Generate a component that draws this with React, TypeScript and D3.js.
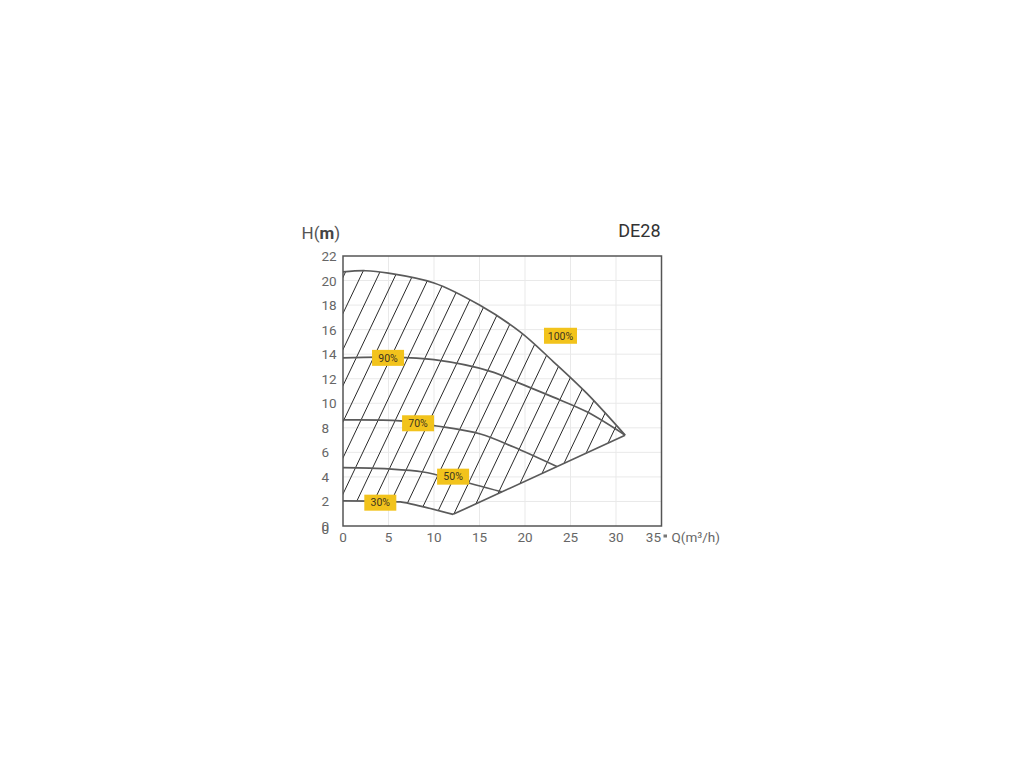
import React from "react";
import * as d3 from "d3";

type P = [number, number];

const Q_TICKS = [0, 5, 10, 15, 20, 25, 30, 35];
const H_TICKS = [0, 2, 4, 6, 8, 10, 12, 14, 16, 18, 20, 22];

const curve100: P[] = [[0, 20.7], [2.5, 20.8], [5, 20.6], [10, 19.8], [15, 18.0], [19.5, 15.8], [23.1, 13.4], [26.8, 10.8], [31, 7.4]];
const curve90: P[] = [[0, 13.7], [5, 13.75], [10, 13.55], [16.2, 12.6], [19.5, 11.6], [23.1, 10.5], [26.8, 9.3], [31, 7.4]];
const curve70: P[] = [[0, 8.64], [6.3, 8.56], [10.3, 8.15], [15.1, 7.5], [18.7, 6.45], [23.5, 4.84]];
const curve50: P[] = [[0, 4.75], [5, 4.65], [8.8, 4.4], [12.5, 3.75], [17.45, 2.78]];
const curve30: P[] = [[0, 2.04], [4, 2.02], [6.3, 1.96], [8.5, 1.62], [12.1, 0.95]];
const boundary: P[] = [[12.1, 0.95], [31, 7.4]];

const speedLabels = ["100%", "90%", "70%", "50%", "30%"];
const labelQ = [23.9, 4.95, 8.25, 12.1, 4.1];
const labelH = [15.5, 13.7, 8.37, 4.02, 1.9];

const W = 1024;
const H = 768;
const PL = 343, PR = 661.5, PT = 256, PB = 526;
const FONT = "Roboto, 'Noto Sans', sans-serif";

export default function App() {
  const x = d3.scaleLinear().domain([0, 35]).range([PL, PR]);
  const y = d3.scaleLinear().domain([0, 22]).range([PB, PT]);

  const smooth = d3.curveCatmullRom.alpha(0.5);
  const line = d3.line<P>().x(d => x(d[0])).y(d => y(d[1])).curve(smooth);
  const straight = d3.line<P>().x(d => x(d[0])).y(d => y(d[1]));
  const areaBelow = d3.area<P>().x(d => x(d[0])).y0(y(-3)).y1(d => y(d[1])).curve(smooth);
  const areaAbove = d3.area<P>().x(d => x(d[0])).y0(y(25)).y1(d => y(d[1])).curve(smooth);
  const areaAboveLin = d3.area<P>().x(d => x(d[0])).y0(y(25)).y1(d => y(d[1]));

  // hatch lines (decorative pattern)
  const slope = 2.1;
  const spacing = 17.2;
  const xRef = x(2.2);
  const yRef = y(20.75);
  const hatch: { x1: number; y1: number; x2: number; y2: number }[] = [];
  for (let k = -25; k <= 30; k++) {
    const xt = xRef + k * spacing;
    const ya = PT - 10, yb = PB + 10;
    hatch.push({ x1: xt - (ya - yRef) / slope, y1: ya, x2: xt - (yb - yRef) / slope, y2: yb });
  }

  const curveStroke = "#5a5a5a";
  const curves = [curve100, curve90, curve70, curve50, curve30];

  return (
    <svg width={W} height={H} style={{ position: "absolute", left: 0, top: 0, background: "#fff" }} fontFamily={FONT}>
      <defs>
        <clipPath id="clipA">
          <path d={areaBelow(curve100) || ""} />
        </clipPath>
        <clipPath id="clipB">
          <path d={areaAbove(curve30) || ""} />
          <path d={areaAboveLin(boundary) || ""} />
        </clipPath>
      </defs>

      {/* grid */}
      {H_TICKS.filter(t => t > 0 && t < 22).map(t => (
        <line key={"gh" + t} x1={PL} x2={PR} y1={y(t)} y2={y(t)} stroke="#e9e9e9" strokeWidth={1} />
      ))}
      {Q_TICKS.filter(t => t > 0 && t < 35).map(t => (
        <line key={"gv" + t} x1={x(t)} x2={x(t)} y1={PT} y2={PB} stroke="#e9e9e9" strokeWidth={1} />
      ))}

      {/* hatch */}
      <g clipPath="url(#clipA)">
        <g clipPath="url(#clipB)">
          {hatch.map((h, i) => (
            <line key={"h" + i} x1={h.x1} y1={h.y1} x2={h.x2} y2={h.y2} stroke="#2a2a2a" strokeWidth={1} />
          ))}
        </g>
      </g>

      {/* curves */}
      {curves.map((c, i) => (
        <path key={"c" + i} d={line(c) || ""} fill="none" stroke={curveStroke} strokeWidth={1.7} />
      ))}
      <path d={straight(boundary) || ""} fill="none" stroke={curveStroke} strokeWidth={1.7} />

      {/* frame */}
      <rect x={PL} y={PT} width={PR - PL} height={PB - PT} fill="none" stroke="#555" strokeWidth={1.5} />

      {/* labels */}
      {speedLabels.map((s, i) => {
        const cx = x(labelQ[i]);
        const cy = y(labelH[i]);
        const w = s.length > 3 ? 33 : 32;
        return (
          <g key={"l" + i}>
            <rect x={cx - w / 2} y={cy - 8} width={w} height={16} fill="#F2C31C" />
            <text x={cx} y={cy + 3.8} textAnchor="middle" fontSize={10.5} fill="#3d3520">{s}</text>
          </g>
        );
      })}

      {/* y tick labels */}
      {H_TICKS.map(t => (
        <text key={"yt" + t} x={321.5} y={y(t) + 5} fontSize={13.5} fill="#666">{t}</text>
      ))}
      <text x={321.5} y={y(0) + 7.5} fontSize={13.5} fill="#666">0</text>

      {/* x tick labels */}
      {Q_TICKS.map((t, i) => (
        <text
          key={"xt" + t}
          x={i === Q_TICKS.length - 1 ? PR - 0.5 : x(t)}
          y={541.7}
          textAnchor={i === Q_TICKS.length - 1 ? "end" : "middle"}
          fontSize={13.5}
          fill="#666"
        >
          {t}
        </text>
      ))}
      <rect x={663.5} y={534.5} width={3.5} height={3} fill="#777" />
      <text x={671.5} y={541.7} fontSize={13.5} fill="#666">Q(m³/h)</text>

      {/* axis title */}
      <text x={301.5} y={238.5} fontSize={17} fill="#555">
        H(<tspan fontWeight="bold" fill="#444">m</tspan>)
      </text>
      <text x={660.5} y={236.5} textAnchor="end" fontSize={18} fill="#333">DE28</text>
    </svg>
  );
}
